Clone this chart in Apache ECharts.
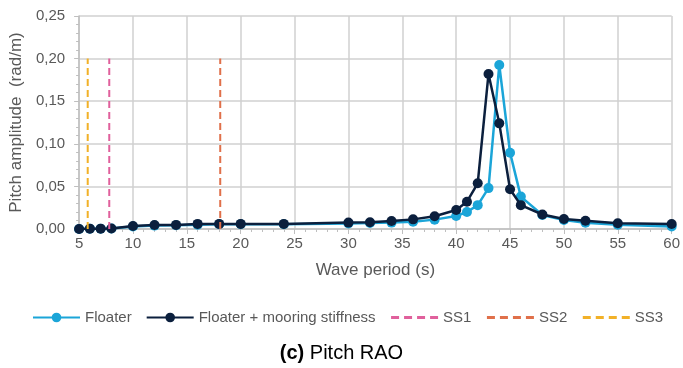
<!DOCTYPE html>
<html><head><meta charset="utf-8">
<script src="https://cdn.jsdelivr.net/npm/echarts@6/dist/echarts.min.js"></script>
<style>html,body{margin:0;padding:0;background:#fff}#c{width:683px;height:368px}</style>
</head><body><div id="c"></div>
<script>
const periods = [5,6,7,8,10,12,14,16,18,20,24,30,32,34,36,38,40,41,42,43,44,45,46,48,50,52,55,60];
const floater = [0,0.0003,0.0004,0.0005,0.003,0.004,0.0045,0.005,0.0055,0.0055,0.0055,0.0065,0.007,0.0075,0.0085,0.011,0.0153,0.020,0.028,0.048,0.1925,0.0896,0.038,0.0164,0.0106,0.0074,0.005,0.003];
const mooring = [0,0.0004,0.0004,0.0005,0.0035,0.0047,0.0048,0.006,0.006,0.006,0.006,0.0075,0.008,0.0094,0.0113,0.015,0.0223,0.032,0.0536,0.182,0.124,0.0466,0.028,0.017,0.0117,0.0097,0.0067,0.0059];
const seaStateNames = ['SS1','SS2','SS3'];
const seaStatePeriods = [7.8, 18.1, 5.8];
const seaStateTop = 0.20;
const seaStateColors = ['#e0609c','#e0704a','#f2b128'];

const pts = (xs, ys) => xs.map((x,i)=>[x, ys[i]]);
const gray = '#595959';
const series = [
  {name:'Floater', type:'line', data:pts(periods,floater), symbol:'circle', symbolSize:10,
   itemStyle:{color:'#1ba5d8'}, lineStyle:{color:'#1ba5d8', width:2.5}, z:2},
  {name:'Floater + mooring stiffness', type:'line', data:pts(periods,mooring), symbol:'circle', symbolSize:10,
   itemStyle:{color:'#0b1f3d'}, lineStyle:{color:'#0b1f3d', width:2.5}, z:3}
];
seaStateNames.forEach((n,i)=>{
  series.push({name:n, type:'line', symbol:'none', z:4,
    data:[[seaStatePeriods[i],0],[seaStatePeriods[i],seaStateTop]],
    itemStyle:{color:seaStateColors[i]},
    lineStyle:{color:seaStateColors[i], width:2, type:[7,4]}});
});
const legendData = [{name:'Floater'},{name:'Floater + mooring stiffness'}].concat(
  seaStateNames.map((n,i)=>({name:n, itemStyle:{color:'rgba(0,0,0,0)', borderWidth:0, opacity:0},
    lineStyle:{color:seaStateColors[i], width:3, type:[8,5]}})));
const chart = echarts.init(document.getElementById('c'));
chart.setOption({
  animation:false,
  textStyle:{fontFamily:'Liberation Sans, Arial, sans-serif'},
  grid:{left:78, right:9, top:16, bottom:139},
  title:{text:'{b|(c)} Pitch RAO', left:'center', top:338,
    textStyle:{rich:{b:{fontWeight:'bold', fontSize:20, color:'#000', fontFamily:'Liberation Sans, Arial, sans-serif'}},
      fontSize:20, fontWeight:'normal', color:'#000', fontFamily:'Liberation Sans, Arial, sans-serif'}},
  legend:{left:32, top:310, padding:0, itemWidth:47, itemHeight:12, itemGap:14,
    textStyle:{fontSize:15, color:gray},
    data:legendData},
  xAxis:{type:'value', min:5, max:60, interval:5,
    name:'Wave period (s)', nameLocation:'middle', nameGap:33,
    nameTextStyle:{fontSize:17, color:gray},
    axisLine:{lineStyle:{color:'#bfbfbf', width:1.5}},
    axisTick:{show:true, length:5, lineStyle:{color:'#bfbfbf'}},
    minorTick:{show:true, splitNumber:5, length:3, lineStyle:{color:'#bfbfbf'}},
    axisLabel:{fontSize:15, color:gray, margin:7},
    splitLine:{show:true, lineStyle:{color:'#d0d0d0', width:1.5}}},
  yAxis:{type:'value', min:0, max:0.25, interval:0.05,
    name:'Pitch amplitude  (rad/m)', nameLocation:'middle', nameGap:49,
    nameTextStyle:{fontSize:17, color:gray},
    axisLine:{show:true, lineStyle:{color:'#bfbfbf', width:1.5}},
    axisTick:{show:true, length:5, lineStyle:{color:'#bfbfbf'}},
    minorTick:{show:true, splitNumber:5, length:3, lineStyle:{color:'#bfbfbf'}},
    axisLabel:{fontSize:15, color:gray, margin:14, formatter:v=>v.toFixed(2).replace('.',',')},
    splitLine:{show:true, lineStyle:{color:'#d0d0d0', width:1.5}}},
  series:series
});
</script></body></html>
